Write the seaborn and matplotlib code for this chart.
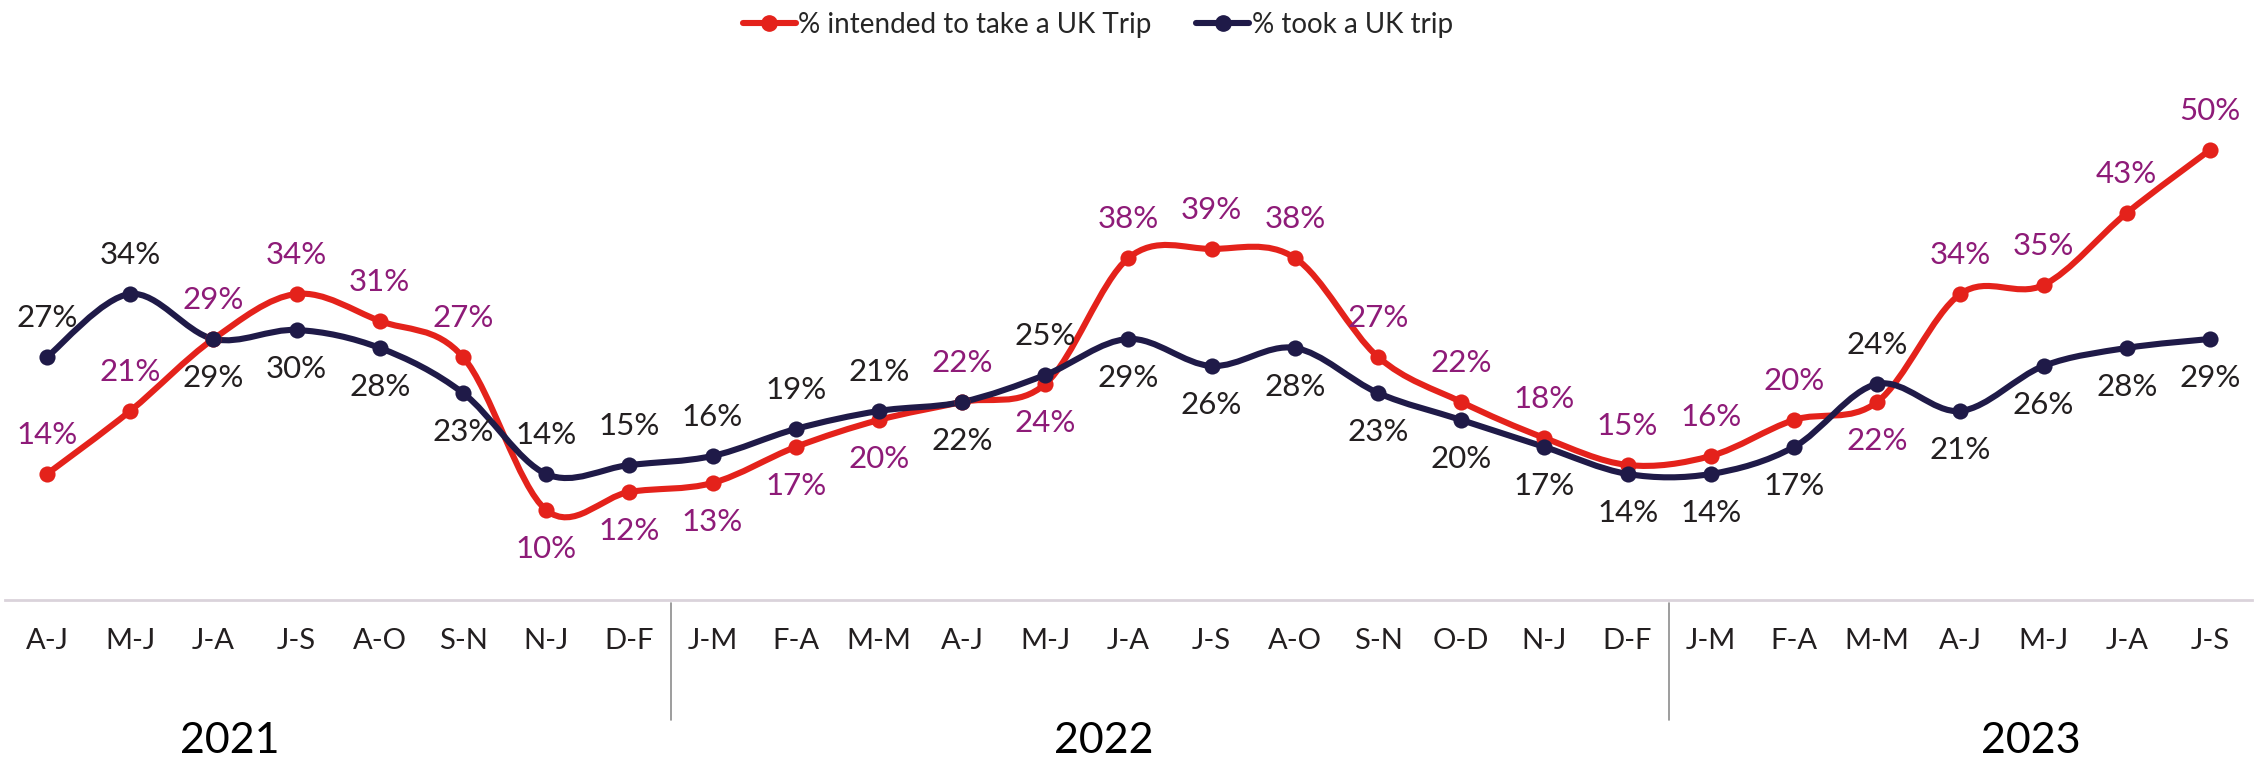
import numpy as np
import pandas as pd
import matplotlib.pyplot as plt
import matplotlib.transforms as mtransforms
from matplotlib.path import Path
from matplotlib.patches import PathPatch
from matplotlib.lines import Line2D
import seaborn as sns

# data
periods = ['A-J', 'M-J', 'J-A', 'J-S', 'A-O', 'S-N', 'N-J', 'D-F',
           'J-M', 'F-A', 'M-M', 'A-J', 'M-J', 'J-A', 'J-S', 'A-O', 'S-N', 'O-D', 'N-J', 'D-F',
           'J-M', 'F-A', 'M-M', 'A-J', 'M-J', 'J-A', 'J-S']
intended = [14, 21, 29, 34, 31, 27, 10, 12,
            13, 17, 20, 22, 24, 38, 39, 38, 27, 22, 18, 15,
            16, 20, 22, 34, 35, 43, 50]
took = [27, 34, 29, 30, 28, 23, 14, 15,
        16, 19, 21, 22, 25, 29, 26, 28, 23, 20, 17, 14,
        14, 17, 24, 21, 26, 28, 29]
years = ['2021', '2022', '2023']

# label placement: 1 = above the point, -1 = below
intended_side = [1, 1, 1, 1, 1, 1, -1, -1,
                 -1, -1, -1, 1, -1, 1, 1, 1, 1, 1, 1, 1,
                 1, 1, -1, 1, 1, 1, 1]
took_side = [1, 1, -1, -1, -1, -1, 1, 1,
             1, 1, 1, -1, 1, -1, -1, -1, -1, -1, -1, -1,
             -1, -1, 1, -1, -1, -1, -1]
year_x = [2.2, 12.7, 23.85]
year_breaks = [7.5, 19.5]

RED = '#E4221B'
NAVY = '#1F1A48'
RED_TXT = '#8E1B78'
NAVY_TXT = '#231F20'

sns.set_style('white')
plt.rcParams['font.family'] = ['Lato', 'DejaVu Sans']

df = pd.DataFrame({'x': np.arange(len(periods)), 'intended': intended, 'took': took})

fig = plt.figure(figsize=(22.59, 7.61), dpi=100)
ax = fig.add_axes([0.0024, 0.2116, 0.9943, 0.7096])


def smooth_path(xs, ys):
    # excel-like smoothed line: cubic bezier between the points
    pts = np.column_stack([xs, ys]).astype(float)
    n = len(pts)
    verts = [pts[0]]
    codes = [Path.MOVETO]
    for i in range(n - 1):
        p0 = pts[max(i - 1, 0)]
        p1 = pts[i]
        p2 = pts[i + 1]
        p3 = pts[min(i + 2, n - 1)]
        verts += [p1 + (p2 - p0) / 6, p2 - (p3 - p1) / 6, p2]
        codes += [Path.CURVE4] * 3
    return Path(verts, codes)


for col, color in [('intended', RED), ('took', NAVY)]:
    ax.add_patch(PathPatch(smooth_path(df['x'], df[col]), facecolor='none',
                           edgecolor=color, lw=4.4, capstyle='round', zorder=2))
    sns.scatterplot(data=df, x='x', y=col, color=color, s=135, edgecolor=color,
                    linewidth=0, ax=ax, zorder=3, legend=False)

for col, sides, tcolor in [('intended', intended_side, RED_TXT), ('took', took_side, NAVY_TXT)]:
    for x, v, s in zip(df['x'], df[col], sides):
        ax.annotate(f'{v}%', (x, v), xytext=(0, 28 * s), textcoords='offset points',
                    ha='center', va='center', fontsize=22.5, color=tcolor)

ax.set_xlim(-0.5, len(periods) - 0.5)
ax.set_ylim(0, 60)
ax.set_xticks(df['x'])
ax.set_xticklabels(periods, fontsize=21, color='#231F20')
ax.tick_params(axis='x', length=0, pad=20)
ax.set_yticks([])
ax.set_xlabel('')
ax.set_ylabel('')
for side in ['left', 'right', 'top']:
    ax.spines[side].set_visible(False)
ax.spines['bottom'].set_color('#DAD3DB')
ax.spines['bottom'].set_linewidth(2)

trans = mtransforms.blended_transform_factory(ax.transData, ax.transAxes)
for b in year_breaks:
    ax.plot([b, b], [-0.006, -0.222], color='#8C8C8C', lw=1.2, transform=trans, clip_on=False)
for yx, yr in zip(year_x, years):
    ax.text(yx, -0.262, yr, transform=trans, ha='center', va='center', fontsize=31, color='black')

handles = [Line2D([], [], color=RED, lw=4.4, marker='o', markersize=11),
           Line2D([], [], color=NAVY, lw=4.4, marker='o', markersize=11)]
fig.legend(handles, ['% intended to take a UK Trip', '% took a UK trip'], loc='center',
           bbox_to_anchor=(0.486, 0.967), ncol=2, frameon=False, fontsize=20,
           handlelength=1.9, handletextpad=0.1, columnspacing=1.6)

fig.savefig('out.png', dpi=100)
plt.close(fig)
